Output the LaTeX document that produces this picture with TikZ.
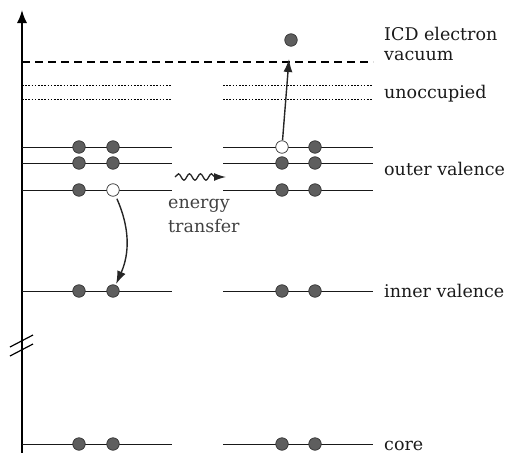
\documentclass[tikz,border=0pt]{standalone}
\usepackage{fontspec}
\setmainfont{DejaVu Serif}
\usetikzlibrary{arrows.meta,decorations.pathmorphing}
\definecolor{elec}{HTML}{5E5E5E}
\definecolor{txt}{HTML}{1A1A1A}
\tikzset{
  electron/.style={circle,minimum size=12.5pt,inner sep=0pt,fill=elec,draw=black!80,line width=0.7pt},
  hole/.style={circle,minimum size=12.5pt,inner sep=0pt,fill=white,draw=black!80,line width=0.7pt},
  level/.style={line width=0.9pt,black!90},
  vaclevel/.style={line width=1.5pt,dash pattern=on 8pt off 5pt},
  unocc/.style={line width=0.6pt,dash pattern=on 1.6pt off 1.6pt},
  lbl/.style={anchor=base west,inner sep=0pt,text=txt,font=\fontsize{17.5}{21}\selectfont},
  arr/.style={line width=1.4pt,black!85,-{Latex[length=13pt,width=9pt]}},
}
\begin{document}
\begin{tikzpicture}[x=1pt,y=-1pt]
\useasboundingbox (0,0) rectangle (507,453);
% axis
\coordinate (axb) at (22,453);
\coordinate (axt) at (22,10);
\draw[line width=1.6pt,-{Latex[length=13pt,width=10pt]}] (axb) -- (axt);
% break marks
\draw[line width=1.2pt] (10,347) -- (33,335);
\draw[line width=1.2pt] (10,356) -- (33,344);
% vacuum
\draw[vaclevel] (22,62) -- (373,62);
% unoccupied
\foreach \y in {85,99}{
  \draw[unocc] (22,\y) -- (172,\y);
  \draw[unocc] (223,\y) -- (373,\y);
}
% occupied levels
\foreach \y in {147,163,190,291,444}{
  \draw[level] (22,\y) -- (172,\y);
  \draw[level] (223,\y) -- (373,\y);
}
% left electrons
\node[electron] (L1a) at (79,147) {};
\node[electron] (L1b) at (113,147) {};
\node[electron] (L2a) at (79,163) {};
\node[electron] (L2b) at (113,163) {};
\node[electron] (L3a) at (79,190) {};
\node[hole]     (L3b) at (113,190) {};
\node[electron] (L4a) at (79,291) {};
\node[electron] (L4b) at (113,291) {};
\node[electron] (L5a) at (79,444) {};
\node[electron] (L5b) at (113,444) {};
% right electrons
\node[hole]     (R1a) at (282,147) {};
\node[electron] (R1b) at (315,147) {};
\node[electron] (R2a) at (282,163) {};
\node[electron] (R2b) at (315,163) {};
\node[electron] (R3a) at (282,190) {};
\node[electron] (R3b) at (315,190) {};
\node[electron] (R4a) at (282,291) {};
\node[electron] (R4b) at (315,291) {};
\node[electron] (R5a) at (282,444) {};
\node[electron] (R5b) at (315,444) {};
% ICD electron
\node[electron] (icd) at (291,40) {};
% arrows
\coordinate (vtop) at (289,59);
\draw[arr,shorten <=7pt] (R1a.center) -- (vtop);
\draw[arr,shorten <=3pt,shorten >=1pt] (L3b) to[bend left=24] (L4b);
\coordinate (wa) at (175,177);
\coordinate (wb) at (226,177);
\draw[line width=1.3pt,black!85,decorate,decoration={snake,amplitude=3.2pt,segment length=11pt,post length=10pt},-{Latex[length=12pt,width=8pt]}] (wa) -- (wb);
% labels
\node[lbl] (tICD) at (384,40) {ICD electron};
\node[lbl] (tvac) at (384,60) {vacuum};
\node[lbl] (tun) at (384,98) {unoccupied};
\node[lbl] (tout) at (384,175) {outer valence};
\node[lbl] (tin) at (384,297) {inner valence};
\node[lbl] (tcore) at (384,450) {core};
\node[lbl,text=black!75] (ten) at (168,208) {energy};
\node[lbl,text=black!75] (ttr) at (168,232) {transfer};
\end{tikzpicture}
\end{document}
